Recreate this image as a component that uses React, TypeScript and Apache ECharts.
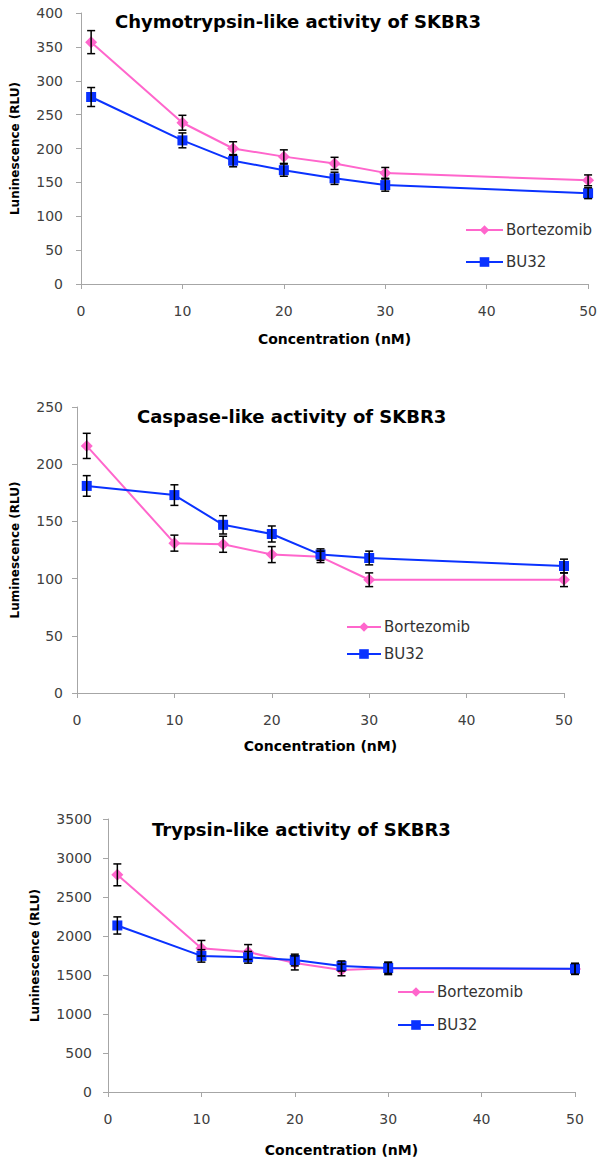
import React, { useEffect, useRef } from "react";
import * as echarts from "echarts";

const concentrations = [1, 10, 15, 20, 25, 30, 50];

const chymoBortezomib = [357, 238, 200, 188, 178, 164, 153];
const chymoBortezomibErr = [17, 11, 10, 10, 9, 8, 8];
const chymoBU32 = [276, 212, 182, 168, 156, 146, 134];
const chymoBU32Err = [14, 11, 9, 9, 9, 9, 8];

const caspBortezomib = [216, 131, 130, 121, 119, 99, 99];
const caspBortezomibErr = [11, 7, 7, 7, 5, 6, 6];
const caspBU32 = [181, 173, 147, 139, 121, 118, 111];
const caspBU32Err = [9, 9, 8, 7, 5, 6, 6];

const trypBortezomib = [2784, 1843, 1795, 1655, 1565, 1585, 1577];
const trypBortezomibErr = [140, 100, 95, 90, 75, 80, 70];
const trypBU32 = [2135, 1745, 1727, 1692, 1615, 1590, 1580];
const trypBU32Err = [110, 80, 75, 75, 65, 70, 70];

const titles = [
  "Chymotrypsin-like activity of SKBR3",
  "Caspase-like activity of SKBR3",
  "Trypsin-like activity of SKBR3",
];
const yNames = ["Luninescence (RLU)", "Luminescence (RLU)", "Luninescence (RLU)"];
const xName = "Concentration (nM)";
const seriesNames = ["Bortezomib", "BU32"];
const yMax = [400, 250, 3500];
const yStep = [50, 50, 500];

const PINK = "#FF66CC";
const BLUE = "#0A32FF";
const FONT = "'DejaVu Sans', 'Open Sans', sans-serif";

export default function App() {
  const ref = useRef<HTMLDivElement>(null);
  useEffect(() => {
    document.body.style.margin = "0";
    const chart = echarts.init(ref.current!, null, { renderer: "svg" });

    const panels = [
      { b: chymoBortezomib, be: chymoBortezomibErr, u: chymoBU32, ue: chymoBU32Err },
      { b: caspBortezomib, be: caspBortezomibErr, u: caspBU32, ue: caspBU32Err },
      { b: trypBortezomib, be: trypBortezomibErr, u: trypBU32, ue: trypBU32Err },
    ];

    const grids = [
      { left: 81, right: 11, top: 13, height: 271 },
      { left: 77, right: 36, top: 407, height: 286 },
      { left: 108, right: 25, top: 819, height: 273 },
    ];
    const xNameGap = [48, 46, 51];
    const yNameGap = [60, 56, 67];
    const yLabelMargin = [18, 14, 16];
    const titlePos = [
      { left: 115, top: 12 },
      { left: 137, top: 407 },
      { left: 152, top: 820 },
    ];
    const legendPos = [
      { left: 465, top: 221, itemWidth: 37, itemGap: 14 },
      { left: 346, top: 618, itemWidth: 34, itemGap: 9 },
      { left: 397, top: 983, itemWidth: 36, itemGap: 15 },
    ];

    const axisLine = { show: true, lineStyle: { color: "#A6A6A6", width: 1 } };
    const axisTick = { show: true, length: 5, inside: false, lineStyle: { color: "#A6A6A6" } };

    const errRender = (params: any, api: any) => {
      const x = api.value(0);
      const lo = api.coord([x, api.value(1)]);
      const hi = api.coord([x, api.value(2)]);
      const w = 4;
      const st = { stroke: "#000", lineWidth: 1.5 };
      return {
        type: "group",
        children: [
          { type: "line", shape: { x1: hi[0], y1: hi[1], x2: lo[0], y2: lo[1] }, style: st },
          { type: "line", shape: { x1: hi[0] - w, y1: hi[1], x2: hi[0] + w, y2: hi[1] }, style: st },
          { type: "line", shape: { x1: lo[0] - w, y1: lo[1], x2: lo[0] + w, y2: lo[1] }, style: st },
        ],
      };
    };

    const series: any[] = [];
    panels.forEach((p, i) => {
      series.push({
        name: seriesNames[0],
        type: "line",
        xAxisIndex: i,
        yAxisIndex: i,
        data: concentrations.map((c, k) => [c, p.b[k]]),
        symbol: "diamond",
        symbolSize: 12,
        lineStyle: { color: PINK, width: 2 },
        itemStyle: { color: PINK },
        z: 3,
      });
      series.push({
        name: seriesNames[1],
        type: "line",
        xAxisIndex: i,
        yAxisIndex: i,
        data: concentrations.map((c, k) => [c, p.u[k]]),
        symbol: "rect",
        symbolSize: 10,
        lineStyle: { color: BLUE, width: 2 },
        itemStyle: { color: BLUE },
        z: 4,
      });
      series.push({
        name: "errB" + i,
        type: "custom",
        xAxisIndex: i,
        yAxisIndex: i,
        renderItem: errRender,
        encode: { x: 0, y: [1, 2] },
        data: concentrations.map((c, k) => [c, p.b[k] - p.be[k], p.b[k] + p.be[k]]),
        z: 5,
      });
      series.push({
        name: "errU" + i,
        type: "custom",
        xAxisIndex: i,
        yAxisIndex: i,
        renderItem: errRender,
        encode: { x: 0, y: [1, 2] },
        data: concentrations.map((c, k) => [c, p.u[k] - p.ue[k], p.u[k] + p.ue[k]]),
        z: 5,
      });
    });

    chart.setOption({
      animation: false,
      backgroundColor: "#fff",
      textStyle: { fontFamily: FONT },
      title: titles.map((t, i) => ({
        text: t,
        left: titlePos[i].left,
        top: titlePos[i].top,
        padding: 0,
        textStyle: { fontSize: 18, fontWeight: "bold", color: "#000", fontFamily: FONT },
      })),
      legend: legendPos.map((l) => ({
        data: seriesNames,
        orient: "vertical",
        left: l.left,
        top: l.top,
        itemWidth: l.itemWidth,
        itemHeight: 12,
        itemGap: l.itemGap,
        padding: 0,
        selectedMode: false,
        textStyle: { fontSize: 15, color: "#333", fontFamily: FONT, lineHeight: 18, padding: [0, 0, 0, -2] },
      })),
      grid: grids,
      xAxis: grids.map((g, i) => ({
        type: "value",
        gridIndex: i,
        min: 0,
        max: 50,
        interval: 10,
        name: xName,
        nameLocation: "middle",
        nameGap: xNameGap[i],
        nameTextStyle: { fontSize: 14, fontWeight: "bold", color: "#000", fontFamily: FONT },
        axisLine,
        axisTick,
        splitLine: { show: false },
        axisLabel: { margin: 20, fontSize: 14, color: "#404040", fontFamily: FONT },
      })),
      yAxis: grids.map((g, i) => ({
        type: "value",
        gridIndex: i,
        min: 0,
        max: yMax[i],
        interval: yStep[i],
        name: yNames[i],
        nameLocation: "middle",
        nameGap: yNameGap[i],
        nameTextStyle: { fontSize: 12, fontWeight: "bold", color: "#000", fontFamily: FONT },
        axisLine,
        axisTick,
        splitLine: { show: false },
        axisLabel: {
          margin: yLabelMargin[i],
          fontSize: 14,
          color: "#404040",
          fontFamily: FONT,
          formatter: (v: number) => String(v),
        },
      })),
      series,
    });

    return () => chart.dispose();
  }, []);

  return <div ref={ref} style={{ width: 600, height: 1161 }} />;
}
